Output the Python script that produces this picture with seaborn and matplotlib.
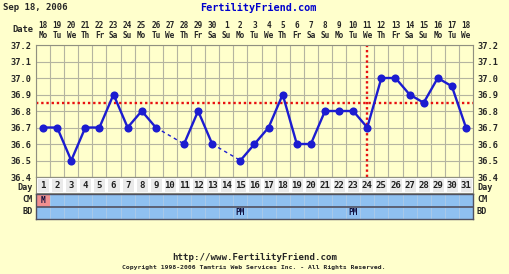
import numpy as np
import pandas as pd
import matplotlib
matplotlib.use("Agg")
import matplotlib.pyplot as plt
from matplotlib.colors import ListedColormap
import seaborn as sns

# ---------------- data ----------------
days = list(range(1, 32))
temps = [36.7, 36.7, 36.5, 36.7, 36.7, 36.9, 36.7, 36.8, 36.7, np.nan,
         36.6, 36.8, 36.6, np.nan, 36.5, 36.6, 36.7, 36.9, 36.6, 36.6,
         36.8, 36.8, 36.8, 36.7, 37.0, 37.0, 36.9, 36.85, 37.0, 36.95, 36.7]
dates = [18, 19, 20, 21, 22, 23, 24, 25, 26, 27, 28, 29, 30,
         1, 2, 3, 4, 5, 6, 7, 8, 9, 10, 11, 12, 13, 14, 15, 16, 17, 18]
weekdays = ["Mo", "Tu", "We", "Th", "Fr", "Sa", "Su"] * 4 + ["Mo", "Tu", "We"]
cm_marks = ["M"] + [""] * 30
bd_marks = [""] * 14 + ["PM"] + [""] * 7 + ["PM"] + [""] * 8
coverline = 36.85
ovulation_day = 24
yticks = [36.4, 36.5, 36.6, 36.7, 36.8, 36.9, 37.0, 37.1, 37.2]

title_date = "Sep 18, 2006"
site = "FertilityFriend.com"
url = "http://www.FertilityFriend.com"
copyright_txt = "Copyright 1998-2006 Tamtris Web Services Inc. - All Rights Reserved."

# ---------------- style ----------------
sns.set_style("white")
plt.rcParams["font.family"] = ["DejaVu Sans Mono", "DejaVu Sans"]
BG = "#ffffcc"
GRID = "#b4b4a0"
BLUE = "#1c1cd0"
RED = "#e81010"

W, H = 510, 274
fig = plt.figure(figsize=(W / 100, H / 100), dpi=100, facecolor=BG)


def rect(x0, y0, x1, y1):
    return [x0 / W, 1 - y1 / H, (x1 - x0) / W, (y1 - y0) / H]


def fx(x):
    return x / W


def fy(y):
    return 1 - y / H


PL, PR, PT, PB = 36, 473, 45, 177
ax = fig.add_axes(rect(PL, PT, PR, PB))
ax.set_facecolor(BG)
ax.set_xlim(0.5, 31.5)
ax.set_ylim(36.4, 37.2)

# grid
for k in range(32):
    ax.axvline(0.5 + k, color=GRID, lw=0.8, zorder=1)
for v in yticks:
    ax.axhline(v, color=GRID, lw=0.8, zorder=1)

df = pd.DataFrame({"day": days, "temp": temps})
valid = df.dropna().reset_index(drop=True)

# solid segments / dashed gaps
seg_id = (valid["day"].diff() != 1).cumsum()
for _, seg in valid.groupby(seg_id):
    sns.lineplot(data=seg, x="day", y="temp", color=BLUE, lw=1.7, ax=ax,
                 zorder=3, legend=False)
for i in range(1, len(valid)):
    if valid.loc[i, "day"] - valid.loc[i - 1, "day"] > 1:
        gap = valid.iloc[i - 1:i + 1]
        sns.lineplot(data=gap, x="day", y="temp", color=BLUE, lw=1.0, ax=ax,
                     zorder=3, linestyle=(0, (2.5, 2.5)), legend=False)
sns.scatterplot(data=valid, x="day", y="temp", color=BLUE, s=34,
                edgecolor=BLUE, linewidth=0, ax=ax, zorder=4, legend=False)

ax.axhline(coverline, color=RED, lw=1.7, linestyle=(0, (1, 1.2)), zorder=2)
ax.axvline(ovulation_day, color=RED, lw=1.7, linestyle=(0, (1, 1.2)), zorder=2)

ax.set_xlabel("")
ax.set_ylabel("")
ax.set_xticks([])
ax.set_yticks(yticks)
ax.set_yticklabels([f"{v:.1f}" for v in yticks])
ax.tick_params(axis="y", length=0, labelleft=True, labelright=True,
               labelsize=6.2, pad=3)
for t in ax.yaxis.get_major_ticks():
    t.label1.set_fontweight("bold")
    t.label2.set_fontweight("bold")
for sp in ax.spines.values():
    sp.set_color("#909080")
    sp.set_linewidth(0.8)

# date header
xt = ax.get_xaxis_transform()
for d, dt, wd in zip(days, dates, weekdays):
    ax.text(d, (PB - 25) / (PB - PT), str(dt), transform=xt, ha="center",
            va="center", fontsize=5.6, fontweight="bold", clip_on=False)
    ax.text(d, (PB - 35) / (PB - PT), wd, transform=xt, ha="center",
            va="center", fontsize=5.6, fontweight="bold", clip_on=False)
fig.text(fx(33), fy(30), "Date", ha="right", va="center", fontsize=6.3,
         fontweight="bold")

# day row
axd = fig.add_axes(rect(PL, 177, PR, 193))
sns.heatmap(np.zeros((1, 31)), ax=axd, cmap=ListedColormap(["#eaeaea"]),
            cbar=False, annot=np.array([[str(d) for d in days]]), fmt="",
            annot_kws={"fontsize": 6.5, "fontweight": "bold", "color": "#202020"},
            linewidths=1.0, linecolor="#ffffff", xticklabels=False,
            yticklabels=False)
for sp in axd.spines.values():
    sp.set_visible(True)
    sp.set_color("#909080")
    sp.set_linewidth(0.8)

# CM / BD rows
codes = np.array([[1 if m else 0 for m in cm_marks], [0] * 31])
annots = np.array([cm_marks, bd_marks])
axc = fig.add_axes(rect(PL, 194, PR, 219))
sns.heatmap(codes, ax=axc, cmap=ListedColormap(["#8fc0f0", "#f09090"]),
            vmin=0, vmax=1, cbar=False, annot=annots, fmt="",
            annot_kws={"fontsize": 5.6, "fontweight": "bold", "color": "#101040"},
            linewidths=0.5, linecolor="#a8c8e8", xticklabels=False,
            yticklabels=False)
axc.axhline(1, color="#505060", lw=1.2)
for sp in axc.spines.values():
    sp.set_visible(True)
    sp.set_color("#505060")
    sp.set_linewidth(1.0)

for y, lab in [(187, "Day"), (200, "CM"), (212, "BD")]:
    fig.text(fx(33), fy(y), lab, ha="right", va="center", fontsize=6.1,
             fontweight="bold")
    fig.text(fx(477), fy(y), lab, ha="left", va="center", fontsize=6.1,
             fontweight="bold")

# header / footer
fig.text(fx(3), fy(8), title_date, ha="left", va="center", fontsize=6.5,
         fontweight="bold")
fig.text(fx(258), fy(8), site, ha="center", va="center", fontsize=7.3,
         fontweight="bold", color="#0000cc")
fig.text(fx(255), fy(257), url, ha="center", va="center", fontsize=6.6,
         fontweight="bold")
fig.text(fx(254), fy(268), copyright_txt, ha="center", va="center",
         fontsize=4.6, fontweight="bold")

fig.savefig("out.png", dpi=100, facecolor=BG)
